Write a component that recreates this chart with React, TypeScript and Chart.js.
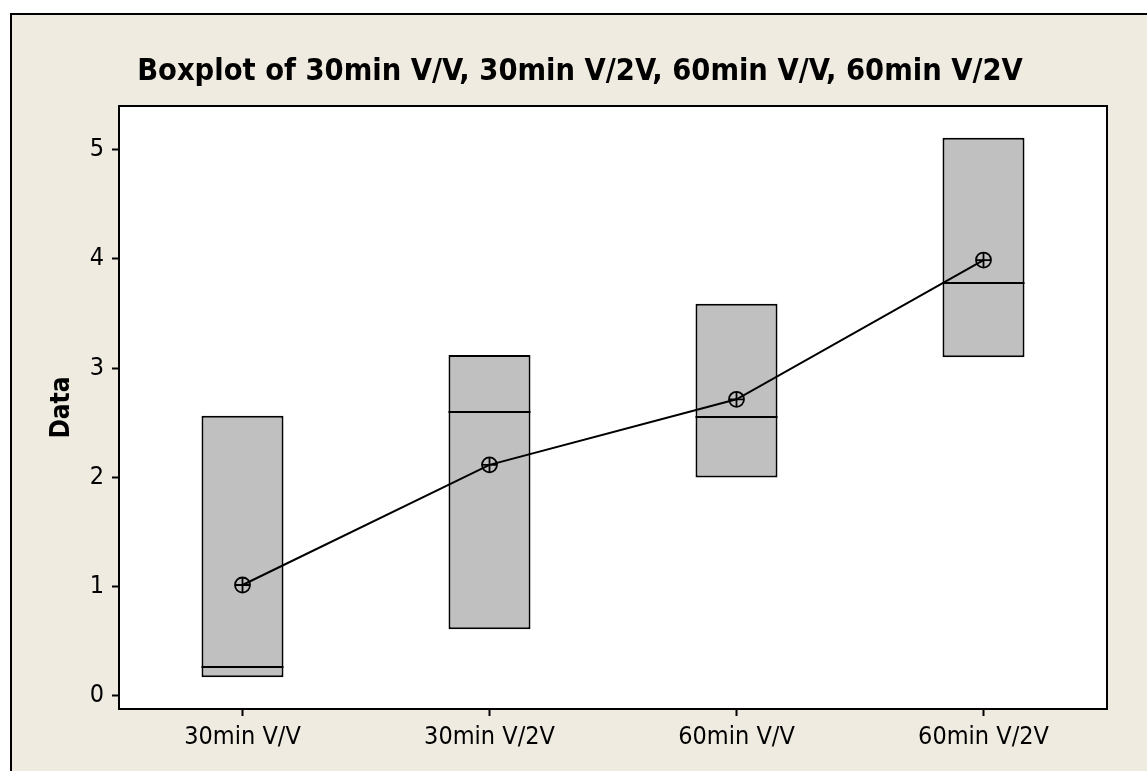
import { useEffect, useRef } from "react";
import { Chart, registerables } from "chart.js";

Chart.register(...registerables);

const categories = ["30min V/V", "30min V/2V", "60min V/V", "60min V/2V"];
const q1 = [0.17, 0.61, 2.0, 3.1];
const median = [0.265, 2.6, 2.55, 3.78];
const q3 = [2.565, 3.12, 3.59, 5.11];
const mean = [1.015, 2.115, 2.715, 3.99];
const yTicks = [0, 1, 2, 3, 4, 5];
const titleText = "Boxplot of 30min V/V, 30min V/2V, 60min V/V, 60min V/2V";
const yTitle = "Data";

const FAMILY = '"DejaVu Sans Condensed", "Liberation Sans", sans-serif';
const BEIGE = "#EFEBE1";

const framePlugin = {
  id: "frame",
  beforeDraw(chart: any) {
    const { ctx, width, height, chartArea: a } = chart;
    ctx.save();
    ctx.fillStyle = "#ffffff";
    ctx.fillRect(0, 0, width, height);
    ctx.fillStyle = BEIGE;
    ctx.fillRect(11, 14, width - 11, height - 14);
    ctx.strokeStyle = "#000";
    ctx.lineWidth = 2;
    ctx.beginPath();
    ctx.moveTo(11, height);
    ctx.lineTo(11, 14);
    ctx.lineTo(width, 14);
    ctx.stroke();
    ctx.fillStyle = "#ffffff";
    ctx.fillRect(a.left, a.top, a.right - a.left, a.bottom - a.top);
    ctx.restore();
  },
  afterDatasetDraw(chart: any, args: any) {
    if (args.index !== 0) return;
    const { ctx } = chart;
    const meta = chart.getDatasetMeta(0);
    const ys = chart.scales.y;
    ctx.save();
    ctx.strokeStyle = "#000";
    ctx.lineWidth = 2;
    ctx.beginPath();
    meta.data.forEach((bar: any, i: number) => {
      const { x, width } = bar.getProps(["x", "width"], true);
      const py = Math.round(ys.getPixelForValue(median[i]));
      ctx.moveTo(x - width / 2, py);
      ctx.lineTo(x + width / 2, py);
    });
    ctx.stroke();
    ctx.restore();
  },
  afterDraw(chart: any) {
    const { ctx, chartArea: a } = chart;
    ctx.save();
    ctx.strokeStyle = "#000";
    ctx.lineWidth = 2;
    ctx.strokeRect(a.left, a.top, a.right - a.left, a.bottom - a.top);
    ctx.fillStyle = "#000";
    ctx.font = `bold 30.5px ${FAMILY}`;
    ctx.textAlign = "center";
    ctx.textBaseline = "alphabetic";
    ctx.fillText(titleText, 580, 80);
    ctx.restore();
  },
};

export default function App() {
  const ref = useRef<HTMLCanvasElement | null>(null);

  useEffect(() => {
    if (!ref.current) return;
    const chart = new Chart(ref.current, {
      type: "bar",
      data: {
        labels: categories,
        datasets: [
          {
            type: "bar",
            data: categories.map((_, i) => [q1[i], q3[i]]) as any,
            backgroundColor: "#C0C0C0",
            borderColor: "#000",
            borderWidth: 2,
            borderSkipped: false,
            barPercentage: 0.332,
            categoryPercentage: 1,
            order: 3,
          } as any,
          {
            type: "line",
            data: mean,
            borderColor: "#000",
            borderWidth: 2,
            pointStyle: "circle",
            pointRadius: 7.5,
            pointBorderWidth: 1.8,
            pointBackgroundColor: "rgba(0,0,0,0)",
            pointBorderColor: "#000",
            fill: false,
            tension: 0,
            order: 1,
          } as any,
          {
            type: "line",
            data: mean,
            showLine: false,
            pointStyle: "cross",
            pointRadius: 7.5,
            pointBorderWidth: 1.8,
            pointBorderColor: "#000",
            order: 0,
          } as any,
        ],
      },
      options: {
        animation: false,
        responsive: false,
        devicePixelRatio: 1,
        layout: { padding: { top: 106, right: 40, left: 0, bottom: 0 } },
        plugins: {
          legend: { display: false },
          tooltip: { enabled: false },
          title: { display: false },
        },
        scales: {
          x: {
            offset: true,
            grid: {
              offset: false,
              drawOnChartArea: false,
              drawTicks: true,
              tickLength: 7,
              tickWidth: 2,
              tickColor: "#000",
            },
            border: { display: false },
            ticks: {
              color: "#000",
              font: { family: FAMILY, size: 25 },
              padding: 6,
              maxRotation: 0,
              autoSkip: false,
            },
            afterFit: (s: any) => {
              s.height = 62;
            },
          },
          y: {
            min: -0.12,
            max: 5.4,
            afterBuildTicks: (s: any) => {
              s.ticks = yTicks.map((v) => ({ value: v }));
            },
            afterFit: (s: any) => {
              s.width = 119;
            },
            grid: {
              drawOnChartArea: false,
              drawTicks: true,
              tickLength: 7,
              tickWidth: 2,
              tickColor: "#000",
            },
            border: { display: false },
            ticks: {
              color: "#000",
              font: { family: FAMILY, size: 25 },
              padding: 8,
            },
            title: {
              display: true,
              text: yTitle,
              color: "#000",
              font: { family: FAMILY, size: 26, weight: "bold" },
              padding: { top: 47, bottom: 0 },
            },
          },
        },
      },
      plugins: [framePlugin],
    } as any);
    return () => chart.destroy();
  }, []);

  return (
    <div style={{ position: "fixed", left: 0, top: 0, width: 1147, height: 771 }}>
      <canvas ref={ref} width={1147} height={771} style={{ display: "block" }} />
    </div>
  );
}
